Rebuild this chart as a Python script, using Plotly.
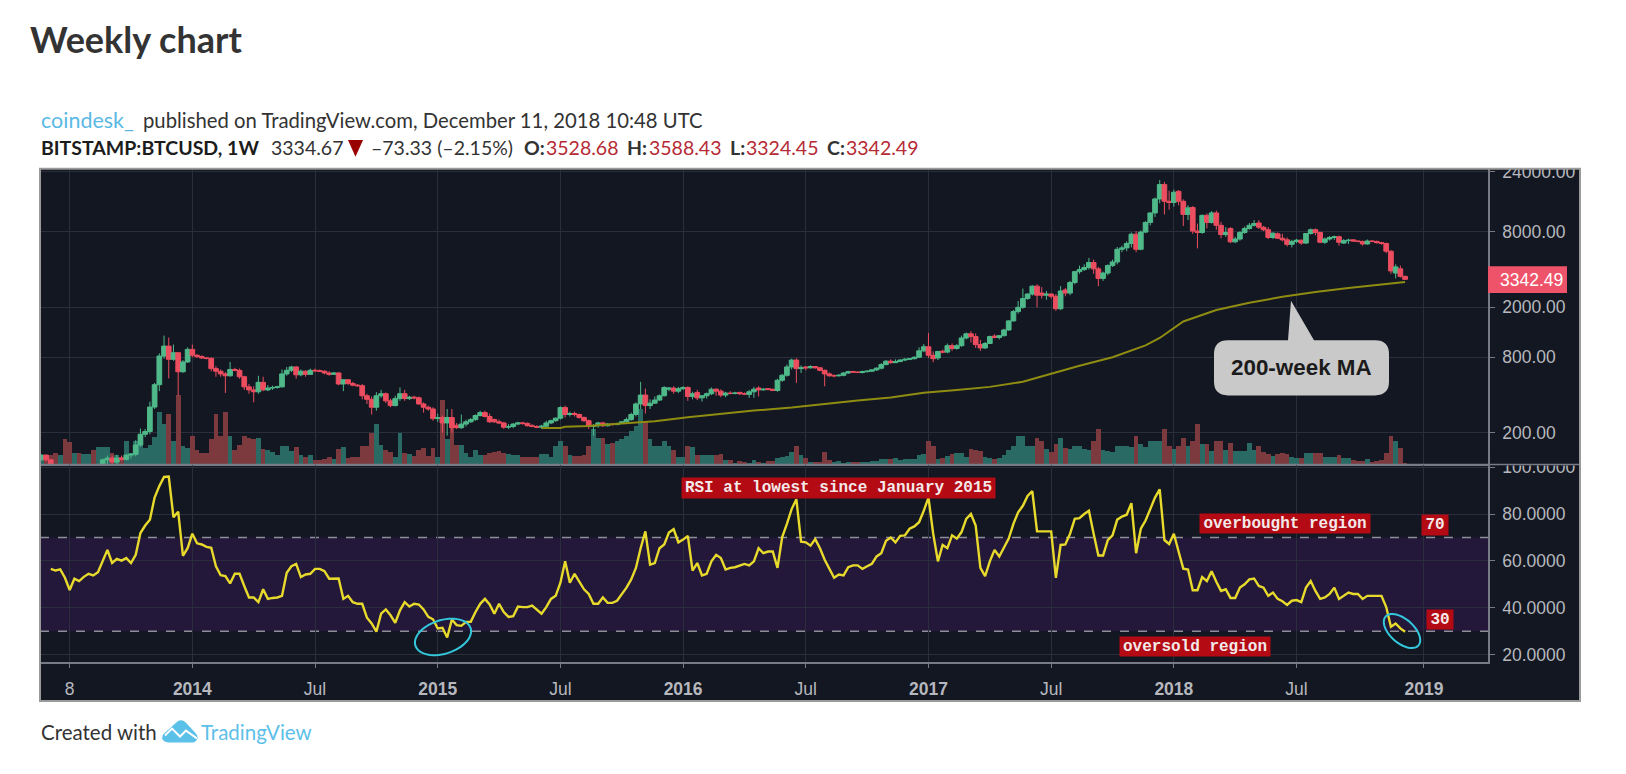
import numpy as np
import pandas as pd
import plotly.graph_objects as go
from plotly.subplots import make_subplots

WIDTH = 1626
HEIGHT = 774

# weekly bars, BITSTAMP:BTCUSD
first_week = "2013-05-27"
opens = [
    122, 133, 122, 110, 103, 107, 93, 76, 95, 90, 95, 104, 102, 108, 122, 126, 117, 126, 123, 133,
    135, 160, 195, 205, 321, 484, 818, 982, 771, 870, 614, 735, 925, 830, 810, 790, 785, 650, 620, 590,
    570, 640, 630, 560, 465, 440, 425, 505, 440, 455, 460, 465, 590, 630, 670, 580, 620, 585, 630, 625,
    620, 600, 585, 600, 490, 530, 495, 480, 475, 395, 370, 320, 395, 410, 360, 330, 375, 410, 375, 385,
    380, 340, 320, 310, 260, 265, 240, 265, 230, 220, 235, 245, 255, 275, 290, 270, 255, 245, 240, 222,
    225, 235, 240, 238, 228, 225, 222, 226, 240, 250, 262, 318, 280, 285, 280, 265, 250, 225, 228, 240,
    228, 235, 233, 238, 245, 255, 280, 340, 400, 330, 345, 365, 395, 445, 455, 430, 450, 460, 390, 420,
    380, 395, 410, 445, 430, 400, 415, 412, 420, 410, 405, 425, 455, 440, 450, 445, 435, 525, 575, 670,
    760, 650, 670, 660, 675, 660, 630, 590, 570, 570, 575, 600, 615, 610, 605, 615, 620, 635, 655, 700,
    745, 725, 740, 760, 770, 780, 800, 900, 970, 830, 790, 895, 880, 990, 940, 990, 1140, 1230, 1170, 1010,
    950, 1030, 1180, 1150, 1190, 1320, 1560, 1850, 2000, 2350, 2550, 2950, 2600, 2500, 2550, 2450, 1950, 2750, 2600, 3150,
    3850, 4000, 4150, 4550, 4050, 3400, 3750, 4300, 4600, 5800, 5950, 6450, 7650, 5800, 7950, 9500, 11300, 14600, 19000, 14000,
    13700, 16800, 14000, 11000, 12500, 8100, 7900, 10800, 9500, 11300, 9000, 7600, 8500, 6650, 7000, 7900, 8500, 9000, 9400, 8700,
    8300, 7200, 7700, 7100, 6900, 6350, 6700, 6850, 6500, 7750, 8300, 7900, 6600, 7000, 7200, 7300, 6500, 6800, 6900, 6750,
    6700, 6400, 6750, 6700, 6550, 6450, 5600, 3750, 4050, 3528.68,
]
highs = [
    135, 135, 123, 111, 112, 110, 97, 97, 99, 98, 106, 107, 108, 125, 132, 132, 134, 132, 136, 138,
    175, 217, 215, 355, 500, 860, 1191, 1150, 1011, 880, 760, 960, 1010, 850, 830, 800, 800, 680, 640, 610,
    735, 660, 650, 570, 490, 470, 570, 560, 480, 475, 475, 640, 670, 684, 680, 640, 630, 650, 650, 640,
    630, 620, 610, 610, 530, 535, 510, 490, 490, 410, 390, 422, 440, 420, 375, 395, 460, 440, 395, 395,
    390, 350, 330, 320, 285, 275, 310, 310, 240, 280, 255, 262, 280, 300, 300, 285, 260, 255, 245, 235,
    240, 245, 245, 242, 235, 230, 232, 250, 255, 265, 325, 330, 295, 295, 285, 270, 255, 235, 245, 245,
    240, 240, 240, 248, 265, 290, 350, 510, 450, 370, 390, 405, 470, 465, 470, 465, 470, 470, 425, 440,
    400, 420, 460, 455, 445, 425, 430, 425, 425, 420, 440, 465, 470, 455, 455, 450, 540, 590, 700, 780,
    785, 690, 680, 690, 680, 670, 640, 605, 585, 590, 610, 625, 625, 620, 625, 630, 640, 665, 720, 760,
    770, 770, 775, 790, 790, 815, 960, 1020, 1250, 890, 900, 920, 1030, 1030, 1020, 1190, 1260, 1290, 1240, 1100,
    1060, 1190, 1220, 1200, 1350, 1580, 1905, 2250, 2820, 2600, 3000, 3050, 2900, 2700, 2600, 2550, 2950, 2850, 3250, 3900,
    4300, 4400, 4950, 4800, 4200, 3850, 4400, 4800, 6050, 6200, 6700, 7900, 8100, 8200, 9700, 11400, 15000, 20640, 20000, 17000,
    17300, 17200, 14500, 13000, 12800, 9300, 11000, 11200, 11700, 11800, 9600, 8700, 8700, 7300, 8100, 8800, 9400, 9900, 9900, 8900,
    8700, 7900, 7900, 7700, 7200, 6900, 7000, 6950, 7800, 8500, 8500, 8000, 7200, 7400, 7450, 7450, 7000, 7050, 6950, 6800,
    6800, 6950, 6850, 6800, 6650, 6550, 5700, 4400, 4300, 3588.43,
]
lows = [
    120, 118, 106, 99, 100, 88, 65, 73, 85, 85, 93, 92, 97, 107, 110, 109, 113, 120, 120, 125,
    130, 155, 185, 195, 310, 430, 780, 543, 750, 397, 600, 720, 800, 790, 780, 770, 620, 560, 560, 416,
    560, 620, 540, 440, 410, 350, 410, 430, 430, 440, 450, 460, 570, 610, 540, 565, 560, 580, 610, 610,
    585, 570, 580, 480, 430, 480, 470, 465, 370, 340, 280, 300, 380, 345, 320, 325, 360, 360, 365, 370,
    335, 290, 300, 250, 245, 200, 190, 200, 215, 215, 225, 240, 250, 270, 265, 240, 240, 235, 215, 215,
    218, 230, 232, 225, 222, 218, 215, 222, 235, 245, 255, 265, 270, 270, 260, 245, 215, 190, 220, 222,
    225, 228, 230, 235, 240, 250, 270, 310, 285, 310, 340, 360, 390, 430, 410, 415, 440, 360, 370, 365,
    355, 375, 400, 395, 385, 385, 405, 405, 400, 400, 380, 380, 390, 435, 435, 430, 425, 510, 560, 640,
    500, 600, 630, 650, 650, 620, 470, 560, 555, 560, 565, 590, 600, 600, 595, 605, 610, 625, 640, 690,
    710, 720, 730, 745, 760, 770, 790, 880, 790, 730, 760, 860, 860, 900, 920, 970, 1110, 1050, 950, 900,
    930, 1020, 1130, 1110, 1170, 1300, 1540, 1780, 1950, 2300, 2480, 2000, 2350, 2300, 2350, 1880, 1900, 2450, 2500, 3050,
    3700, 3900, 4000, 3700, 2950, 3250, 3600, 4200, 4400, 5500, 5600, 6000, 5500, 5700, 7800, 9000, 10500, 13500, 11000, 12000,
    12700, 13000, 8900, 9900, 7700, 5900, 7700, 8500, 9300, 8300, 7100, 7300, 6500, 6500, 6800, 7700, 8300, 8800, 8400, 8100,
    7000, 7000, 7000, 6700, 6100, 6000, 6500, 6300, 6400, 7600, 7500, 6500, 6400, 6800, 6900, 6200, 6400, 6400, 6650, 6600,
    6200, 6300, 6600, 6450, 6300, 5400, 3700, 3400, 3450, 3324.45,
]
closes = [
    133, 122, 110, 103, 107, 93, 76, 95, 90, 95, 104, 102, 108, 122, 126, 117, 126, 123, 133, 135,
    160, 195, 205, 321, 484, 818, 982, 771, 870, 614, 735, 925, 830, 810, 790, 785, 650, 620, 590, 570,
    640, 630, 560, 465, 440, 425, 505, 440, 455, 460, 465, 590, 630, 670, 580, 620, 585, 630, 625, 620,
    600, 585, 600, 490, 530, 495, 480, 475, 395, 370, 320, 395, 410, 360, 330, 375, 410, 375, 385, 380,
    340, 320, 310, 260, 265, 240, 265, 220, 220, 235, 245, 255, 275, 290, 270, 245, 245, 240, 222, 225,
    235, 240, 238, 228, 225, 222, 226, 240, 250, 262, 318, 280, 285, 280, 265, 250, 225, 228, 240, 228,
    235, 233, 238, 245, 255, 280, 340, 400, 330, 345, 365, 395, 460, 455, 430, 450, 460, 390, 410, 380,
    395, 410, 445, 430, 400, 415, 412, 415, 410, 408, 425, 445, 440, 445, 445, 435, 525, 575, 670, 760,
    650, 660, 660, 675, 660, 630, 590, 570, 570, 575, 600, 615, 610, 605, 615, 620, 635, 655, 700, 745,
    725, 740, 760, 770, 780, 800, 900, 970, 830, 780, 890, 880, 990, 940, 990, 1140, 1230, 1170, 1010, 950,
    1030, 1170, 1150, 1190, 1320, 1560, 1850, 2000, 2350, 2550, 2950, 2500, 2500, 2550, 2450, 1950, 2700, 2600, 3150, 3850,
    4000, 4150, 4550, 4050, 3400, 3750, 4300, 4600, 5800, 5950, 6450, 7650, 5800, 7950, 9500, 11300, 14600, 19000, 14000, 13700,
    16500, 14000, 11000, 12400, 8100, 7900, 10800, 9500, 11300, 9000, 7600, 7900, 6650, 7000, 7900, 8500, 9000, 9300, 8700, 8300,
    7200, 7800, 7100, 6900, 6350, 6700, 6850, 6500, 7750, 8300, 7900, 6600, 7000, 7200, 7300, 6600, 6800, 6850, 6750, 6700,
    6400, 6750, 6700, 6550, 6450, 5600, 3900, 4200, 3530, 3342.49,
]
volumes = [
    9, 9, 10, 12, 10, 26, 23, 12, 12, 11, 11, 15, 18, 18, 18, 12, 10, 8, 24, 12,
    24, 28, 17, 20, 28, 53, 41, 51, 24, 71, 19, 17, 29, 15, 12, 12, 26, 51, 29, 53,
    29, 15, 20, 29, 27, 26, 27, 16, 15, 13, 10, 19, 19, 14, 18, 10, 8, 10, 5, 5,
    6, 8, 6, 16, 18, 7, 8, 8, 19, 19, 32, 41, 20, 15, 13, 8, 32, 12, 11, 9,
    15, 17, 9, 17, 8, 66, 26, 37, 20, 20, 12, 8, 15, 10, 10, 12, 13, 14, 12, 11,
    10, 10, 8, 8, 8, 8, 11, 11, 8, 19, 24, 19, 10, 9, 9, 10, 19, 36, 27, 27,
    21, 22, 24, 26, 29, 34, 39, 57, 44, 26, 19, 19, 24, 19, 15, 8, 8, 19, 18, 10,
    10, 10, 10, 10, 11, 5, 5, 2, 4, 3, 2, 5, 3, 2, 4, 4, 7, 8, 9, 13,
    19, 10, 7, 3, 3, 3, 13, 5, 3, 4, 2, 3, 3, 3, 3, 3, 4, 4, 6, 6,
    6, 7, 5, 6, 6, 6, 10, 11, 24, 19, 6, 7, 9, 11, 12, 12, 8, 16, 15, 14,
    8, 7, 6, 7, 10, 15, 19, 29, 29, 19, 19, 27, 24, 16, 13, 21, 27, 17, 16, 19,
    19, 16, 15, 24, 36, 15, 14, 13, 19, 19, 19, 18, 29, 21, 18, 24, 24, 24, 36, 19,
    16, 19, 27, 19, 24, 41, 21, 21, 14, 24, 24, 15, 22, 14, 14, 14, 22, 15, 19, 13,
    11, 9, 11, 12, 11, 8, 7, 7, 12, 12, 12, 12, 8, 8, 8, 10, 7, 7, 5, 4,
    4, 6, 3, 4, 5, 12, 29, 24, 17, 2,
]
rsi = [
    56.6, 55.9, 56.4, 52.8, 47.6, 52.4, 51.4, 53.2, 54.5, 53.8, 55.2, 59.8, 64.7, 59.1, 60.9, 60.1, 61.2, 59.1, 62.6, 71.9,
    75.1, 77.6, 87, 91.9, 95.8, 96, 78.6, 81, 62.2, 65.4, 71.6, 67.5, 67, 66, 65.6, 57.7, 53.9, 53.5, 50.4, 54.5,
    54.5, 49.3, 44.4, 44.4, 42.4, 47.9, 43.8, 44.2, 44.4, 45.1, 54.9, 57.7, 58.7, 53.1, 54.2, 54.5, 56.6, 56.6, 55.6, 52.4,
    52.4, 52.5, 43.8, 45.1, 42.4, 41.7, 41.7, 35.8, 33.3, 29.8, 37.5, 39.3, 36.8, 33.6, 38.9, 42.4, 40.5, 41.7, 41.4, 39.3,
    36.1, 35.1, 31.2, 31.5, 27.3, 35, 32.6, 32.3, 34, 34, 38.2, 41.7, 43.8, 41.4, 37.5, 41.7, 38.2, 36.1, 36.4, 40.5,
    40.3, 40.3, 40.9, 39.3, 37.5, 40.3, 43.8, 45.1, 50.7, 59.8, 50.7, 54.5, 51.4, 47.9, 45.9, 41.7, 41.7, 44.4, 42.1, 42.1,
    43, 45.9, 48.6, 52.1, 57, 65.4, 72.6, 58.4, 59.1, 65.4, 67, 72.1, 73.5, 67.9, 69.1, 70.7, 55.9, 59.1, 53.8, 54.5,
    59.8, 62.6, 61.2, 56.3, 57, 57.3, 58, 58.7, 58.1, 59.8, 65.4, 63.3, 64, 64, 57, 70.2, 75.8, 82.1, 86.3, 68.2,
    67.9, 66.5, 69.3, 65.4, 60.5, 56.3, 52.8, 54.2, 53.8, 57.3, 58.1, 58.1, 56.6, 57.7, 58.7, 61.9, 63.3, 68.6, 70, 67.9,
    70.7, 70.9, 73.7, 74.7, 76.5, 81.4, 87, 71.6, 59.8, 66.8, 65.4, 70.9, 69.5, 72.3, 77.9, 80, 75.1, 57, 53.5, 59.8,
    64.7, 61.9, 65.4, 69.5, 75.8, 80.7, 83.5, 87.7, 89.8, 72.6, 72.6, 72.6, 72.6, 52.8, 66.8, 67, 71.6, 77.9, 78.2, 80,
    81.4, 71.6, 62.3, 62.3, 68.9, 70.9, 77.6, 78.9, 79.7, 84.6, 63.3, 73.7, 77.2, 82.1, 87, 90.5, 68.9, 67.2, 71.6, 64,
    56.7, 56.3, 47.5, 47.5, 53.1, 51.4, 55.6, 51.1, 47.2, 47.9, 44.2, 44.2, 48.6, 50, 52.1, 52.5, 49.3, 48.6, 45.1, 46.5,
    43.8, 42.8, 41.2, 43, 43.3, 42.4, 48.6, 51.4, 47.2, 43.8, 44.4, 45.9, 48.6, 43.8, 45.1, 46.5, 45.9, 45.9, 43.8, 45.1,
    45.1, 45.1, 45.1, 40.3, 31.9, 33.3, 31.2, 29.8,
]
ma_week_index = [106, 110, 111, 116, 123, 130, 137, 144, 151, 159, 166, 173, 180, 187, 194, 201, 208, 215, 220, 227,
                 234, 237, 240, 242, 249, 256, 263, 270, 277, 284, 289]
ma_200 = [219, 219, 224, 227, 238, 248, 266, 283, 301, 318, 340, 362, 382, 417, 440, 465, 510, 606, 684, 800,
          994, 1140, 1368, 1542, 1906, 2173, 2425, 2654, 2851, 3046, 3179]

time_ticks = ["2013-07-08", "2014-01-06", "2014-07-07", "2015-01-05", "2015-07-06", "2016-01-04",
              "2016-07-04", "2017-01-02", "2017-07-03", "2018-01-01", "2018-07-02", "2019-01-07"]
time_labels = ["8", "<b>2014</b>", "Jul", "<b>2015</b>", "Jul", "<b>2016</b>",
               "Jul", "<b>2017</b>", "Jul", "<b>2018</b>", "Jul", "<b>2019</b>"]
price_ticks = [200, 800, 2000, 8000, 24000]
price_labels = ["200.00", "800.00", "2000.00", "8000.00", "24000.00"]
rsi_ticks = [20, 40, 60, 80, 100]
rsi_labels = ["20.0000", "40.0000", "60.0000", "80.0000", "100.0000"]

BG = "#131722"
GRID = "#2a2d3a"
AXIS = "#787b86"
TICK_TEXT = "#b6b8bd"
LABEL_RED = "#b30a14"
CYAN = "#33c8dc"


def fx(x):
    return x / WIDTH


def fy(y):
    return 1 - y / HEIGHT


def to_path(points, close=True):
    parts = [f"{'M' if n == 0 else 'L'} {fx(x):.5f} {fy(y):.5f}" for n, (x, y) in enumerate(points)]
    return " ".join(parts) + (" Z" if close else "")


def ellipse_path(cx, cy, a, b, tilt):
    t = np.linspace(0, 2 * np.pi, 60)
    r = np.radians(tilt)
    xs = cx + a * np.cos(t) * np.cos(r) - b * np.sin(t) * np.sin(r)
    ys = cy + a * np.cos(t) * np.sin(r) + b * np.sin(t) * np.cos(r)
    return to_path(list(zip(xs, ys)))


def paper_shape(path, fill=None, line=None, width=0, layer="above"):
    return dict(type="path", path=path, xref="paper", yref="paper", layer=layer,
                fillcolor=fill or "rgba(0,0,0,0)",
                line=dict(color=line or "rgba(0,0,0,0)", width=width))


def box_path(x0, y0, x1, y1):
    return to_path([(x0, y0), (x1, y0), (x1, y1), (x0, y1)])


def text_at(fig, text, x, y, size, color, family="Lato", xanchor="left", **kw):
    fig.add_annotation(text=text, x=fx(x), y=fy(y), xref="paper", yref="paper", xanchor=xanchor,
                       yanchor="middle", showarrow=False, align="center",
                       font=dict(family=family, size=size, color=color), borderpad=0, **kw)


def red_label(fig, text, x0, y0, x1, y1):
    fig.add_annotation(text=f"<b>{text}</b>", x=fx((x0 + x1) / 2), y=fy((y0 + y1) / 2), xref="paper", yref="paper",
                       xanchor="center", yanchor="middle", showarrow=False, width=x1 - x0, height=y1 - y0,
                       bgcolor=LABEL_RED, borderpad=0,
                       font=dict(family="Liberation Mono", size=16, color="#f4e9e9"))


week_dates = pd.date_range(first_week, periods=len(closes), freq="7D")
volume_colors = ["#2a6a64" if c >= o else "#7c3a3e" for o, c in zip(opens, closes)]

fig = make_subplots(rows=2, cols=1, shared_xaxes=True, specs=[[{"secondary_y": True}], [{}]])

fig.add_trace(go.Bar(x=week_dates, y=volumes, marker=dict(color=volume_colors, line=dict(width=0)),
                     width=7 * 86400000, hoverinfo="skip"), row=1, col=1, secondary_y=False)
fig.add_trace(go.Candlestick(x=week_dates, open=opens, high=highs, low=lows, close=closes,
                             increasing=dict(line=dict(color="#4fb98a", width=1), fillcolor="#4fb98a"),
                             decreasing=dict(line=dict(color="#ec4d5f", width=1), fillcolor="#ec4d5f"),
                             whiskerwidth=0), row=1, col=1, secondary_y=True)
fig.add_trace(go.Scatter(x=week_dates[ma_week_index], y=ma_200, mode="lines",
                         line=dict(color="#8f8c12", width=2)), row=1, col=1, secondary_y=True)
fig.add_trace(go.Scatter(x=week_dates[-len(rsi):], y=rsi, mode="lines",
                         line=dict(color="#e8da2c", width=2.4)), row=2, col=1)

x_range = ["2013-05-25", "2019-04-12"]
fig.update_xaxes(range=x_range, type="date", tickvals=time_ticks, ticktext=time_labels, showgrid=True,
                 gridcolor=GRID, gridwidth=1, zeroline=False, rangeslider_visible=False,
                 tickfont=dict(family="Liberation Sans", size=17.5, color=TICK_TEXT))
fig.update_xaxes(row=1, col=1, showticklabels=False, ticks="", domain=[fx(40), fx(1488)],
                 showline=True, linecolor=AXIS, linewidth=1.5)
fig.update_xaxes(row=2, col=1, domain=[fx(40), fx(1488)], ticks="outside", ticklen=5, tickcolor=AXIS,
                 showline=True, linecolor=AXIS, linewidth=1.5, ticklabelstandoff=6)

fig.update_layout(
    width=WIDTH,
    height=HEIGHT,
    margin=dict(l=0, r=0, t=0, b=0),
    paper_bgcolor="white",
    plot_bgcolor="rgba(0,0,0,0)",
    showlegend=False,
    boxgap=0,
    boxgroupgap=0,
    bargap=0,
    yaxis=dict(domain=[fy(463), fy(163)], range=[0, 300], visible=False),
    yaxis2=dict(domain=[fy(463), fy(163)], type="log", range=[2.0497, 4.4056], side="right",
                tickvals=price_ticks, ticktext=price_labels, showgrid=True, gridcolor=GRID, gridwidth=1,
                ticks="outside", ticklen=5, tickcolor=AXIS, showline=True, linecolor=AXIS, linewidth=1.5,
                zeroline=False, ticklabelstandoff=4,
                tickfont=dict(family="Liberation Sans", size=17.5, color=TICK_TEXT)),
    yaxis3=dict(domain=[fy(663), fy(464)], range=[17.06, 100.73], side="right",
                tickvals=rsi_ticks, ticktext=rsi_labels, showgrid=True, gridcolor=GRID, gridwidth=1,
                ticks="outside", ticklen=5, tickcolor=AXIS, showline=True, linecolor=AXIS, linewidth=1.5,
                zeroline=False, ticklabelstandoff=4,
                tickfont=dict(family="Liberation Sans", size=17.5, color=TICK_TEXT)),
)

shapes = [
    # chart background, RSI band and its dashed limits sit under the grid
    paper_shape(box_path(40, 163, 1580, 703), fill=BG, layer="below"),
    dict(type="rect", xref="x2", yref="y3", x0=x_range[0], x1=x_range[1], y0=30, y1=70, layer="below",
         fillcolor="#23173a", line=dict(width=0)),
    dict(type="line", xref="x2", yref="y3", x0=x_range[0], x1=x_range[1], y0=70, y1=70, layer="below",
         line=dict(color="#8d8e98", width=1.5, dash="dash")),
    dict(type="line", xref="x2", yref="y3", x0=x_range[0], x1=x_range[1], y0=30, y1=30, layer="below",
         line=dict(color="#8d8e98", width=1.5, dash="dash")),
    # clip the tick labels that run past the panes
    paper_shape(box_path(1490, 150, 1579, 163), fill="white"),
    paper_shape(box_path(1490, 452, 1579, 464), fill=BG),
    paper_shape(box_path(1490, 663, 1579, 676), fill=BG),
    paper_shape(to_path([(40, 463), (1580, 463)], close=False), line=AXIS, width=1.5),
    paper_shape(box_path(40, 163, 1580, 703), line="#9a9a9a", width=2),
    # last price tag
    paper_shape(box_path(1488, 262, 1567, 289), fill="#ef5369"),
    # 200-week MA callout
    paper_shape(
        f"M {fx(1228)} {fy(337)} L {fx(1288)} {fy(337)} L {fx(1291)} {fy(297)} L {fx(1314)} {fy(337)} "
        f"L {fx(1375)} {fy(337)} Q {fx(1389)} {fy(337)} {fx(1389)} {fy(351)} L {fx(1389)} {fy(379)} "
        f"Q {fx(1389)} {fy(393)} {fx(1375)} {fy(393)} L {fx(1228)} {fy(393)} Q {fx(1214)} {fy(393)} {fx(1214)} {fy(379)} "
        f"L {fx(1214)} {fy(351)} Q {fx(1214)} {fy(337)} {fx(1228)} {fy(337)} Z",
        fill="#c9c9c9",
    ),
    # circles around the RSI lows
    paper_shape(ellipse_path(443, 638, 29, 17, -18), line=CYAN, width=2),
    paper_shape(ellipse_path(1402, 632, 22, 12, 42), line=CYAN, width=2),
    # down triangle in the header
    paper_shape(to_path([(348, 134), (363, 134), (355.5, 151)]), fill="#990000"),
    # logo
    paper_shape(
        f"M {fx(168)} {fy(745)} Q {fx(160)} {fy(744)} {fx(163)} {fy(737)} L {fx(176)} {fy(725)} "
        f"Q {fx(181)} {fy(720)} {fx(186)} {fy(725)} L {fx(195)} {fy(735)} Q {fx(201)} {fy(741)} {fx(194)} {fy(745)} Z",
        fill="#5cc1e8",
    ),
    paper_shape(to_path([(165, 738), (172, 731), (180, 739), (186, 733), (197, 741)], close=False), line="white", width=2),
]
fig.update_layout(shapes=shapes)

text_at(fig, "<b>Weekly chart</b>", 29, 31, 36, "#333333", family="Lato")
text_at(fig, "coindesk_", 40, 114, 21.5, "#5ab9e4")
text_at(fig, "published on TradingView.com, December 11, 2018 10:48 UTC", 142, 114, 20.3, "#333333")
text_at(fig, "<b>BITSTAMP:BTCUSD, 1W</b>", 40, 142, 19.5, "#1c1c1c")
text_at(fig, "3334.67", 270, 142, 19.5, "#333333")
text_at(fig, "–73.33 (–2.15%)", 370, 142, 19.5, "#333333")
header_pairs = [("O:", 523, "3528.68", 545), ("H:", 626, "3588.43", 648), ("L:", 729, "3324.45", 745), ("C:", 826, "3342.49", 845)]
for name, name_x, value, value_x in header_pairs:
    text_at(fig, f"<b>{name}</b>", name_x, 142, 19.5, "#333333")
    text_at(fig, value, value_x, 142, 19.5, "#b52a35")

text_at(fig, "3342.49", 1499, 276, 17.5, "white", family="Liberation Sans")
text_at(fig, "<b>200-week MA</b>", 1301, 365, 22.4, "#1b1b1b", family="Liberation Sans", xanchor="center")

red_label(fig, "RSI at lowest since January 2015", 682, 477, 995, 497)
red_label(fig, "overbought region", 1200, 513, 1370, 532)
red_label(fig, "70", 1422, 514, 1448, 534)
red_label(fig, "oversold region", 1120, 638, 1270, 657)
red_label(fig, "30", 1427, 611, 1453, 630)

text_at(fig, "Created with", 40, 734, 20.5, "#333333")
text_at(fig, "TradingView", 200, 734, 20.5, "#5cc0e8")

fig.write_html("out.html", config={"displayModeBar": False},
               post_script="document.body.style.margin='0';document.body.style.overflow='hidden';")
